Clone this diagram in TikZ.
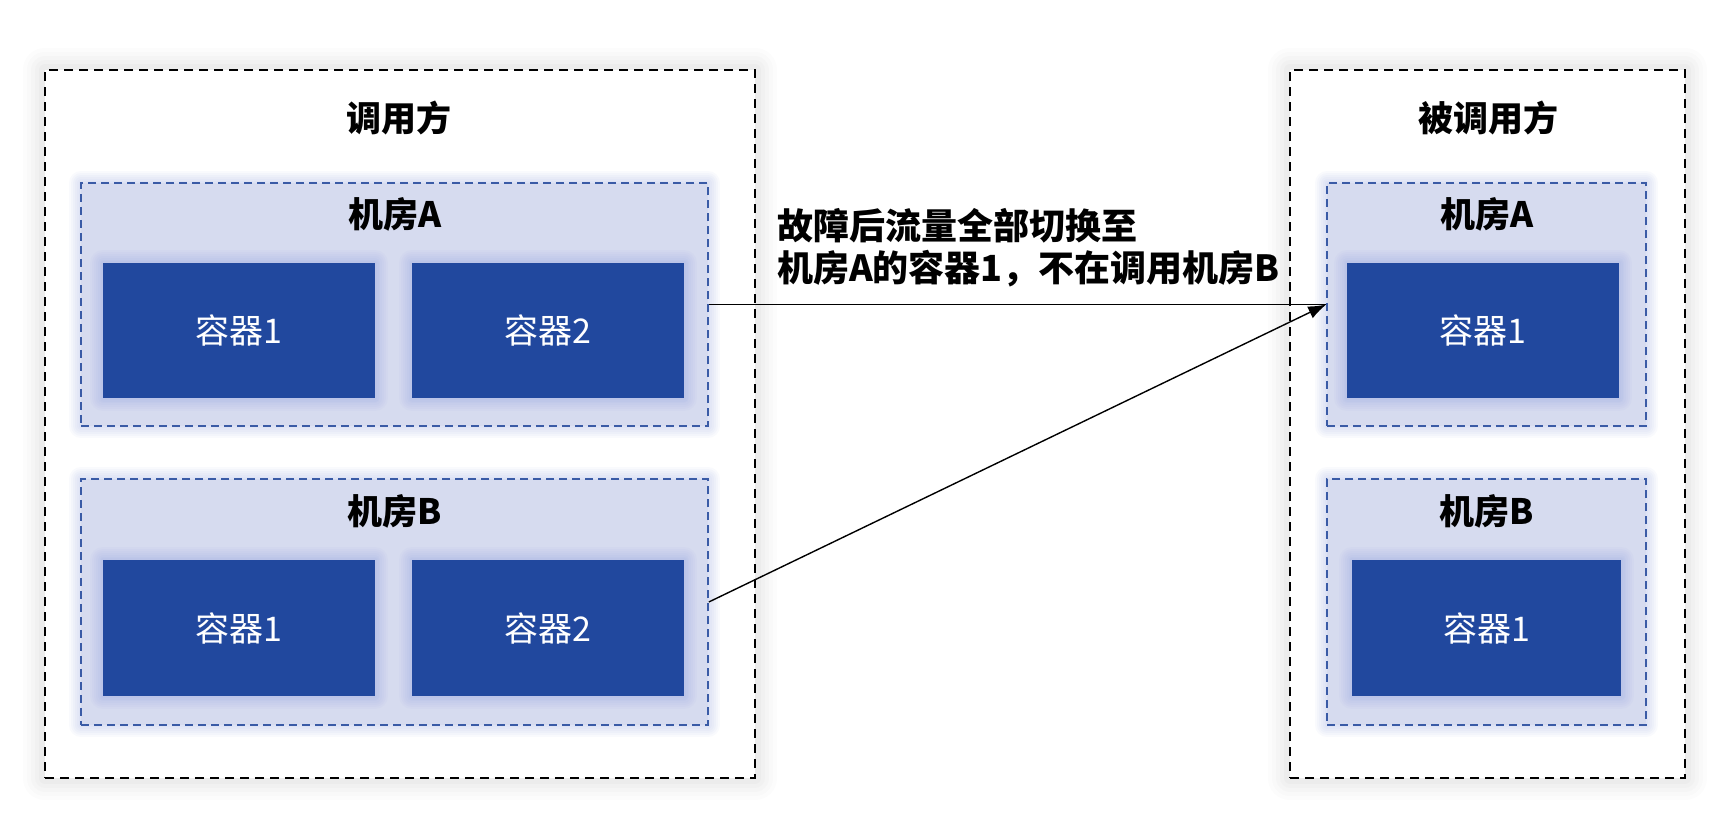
\documentclass[tikz,border=0pt]{standalone}
\usepackage{fontspec}
\setmainfont{Noto Sans CJK SC}
\usetikzlibrary{arrows.meta}
\definecolor{cont}{HTML}{21489E}
\definecolor{roomfill}{HTML}{D6DBEF}
\definecolor{roomline}{HTML}{3A5BA6}
\definecolor{glow}{HTML}{7A90E0}
\tikzset{
  gl/.style 2 args={preaction={draw=#1, solid, line width=#2, draw opacity=0.045, line join=round}},
  outerbox/.style={draw=black, line width=1.8pt, dash pattern=on 9pt off 6pt, fill=white,
    preaction={draw=black!60, solid, line width=44pt, draw opacity=0.02, line join=round},
    preaction={draw=black!60, solid, line width=36pt, draw opacity=0.02, line join=round},
    preaction={draw=black!60, solid, line width=28pt, draw opacity=0.025, line join=round},
    preaction={draw=black!60, solid, line width=20pt, draw opacity=0.025, line join=round},
    preaction={draw=black!60, solid, line width=12pt, draw opacity=0.03, line join=round}},
  roombox/.style={draw=roomline, line width=1.6pt, dash pattern=on 8pt off 5pt, fill=roomfill,
    gl={glow}{24pt}, gl={glow}{20pt}, gl={glow}{16pt}, gl={glow}{12pt}, gl={glow}{8pt}, gl={glow}{4pt}},
  contbox/.style={fill=cont, text=white, inner sep=0pt, font=\fontsize{34}{40}\selectfont,
    gl={glow}{26pt}, gl={glow}{22pt}, gl={glow}{18pt}, gl={glow}{14pt}, gl={glow}{10pt}, gl={glow}{7pt}, gl={glow}{4pt}},
  titletext/.style={font=\bfseries\fontsize{35}{40}\selectfont, inner sep=0pt},
  conn/.style={draw=black, line width=1.4pt},
}
\begin{document}
\begin{tikzpicture}[x=1pt, y=-1pt]
\useasboundingbox[fill=white] (0,0) rectangle (1719,812);

% outer boxes
\node[outerbox, minimum width=710pt, minimum height=708pt] (caller) at (400,424) {};
\node[outerbox, minimum width=395pt, minimum height=708pt] (callee) at (1487.5,424) {};
\node[titletext] (callerT) at (399,118) {调用方};
\node[titletext] (calleeT) at (1488,118) {被调用方};

% left rooms
\node[roombox, minimum width=627pt, minimum height=243pt] (LA) at (394.5,304.5) {};
\node[roombox, minimum width=627pt, minimum height=246pt] (LB) at (394.5,602) {};
\node[titletext] (LAt) at (395,214) {机房A};
\node[titletext] (LBt) at (395,511) {机房B};
\node[contbox, minimum width=272pt, minimum height=135pt] (LA1) at (239,330.5) {容器1};
\node[contbox, minimum width=272pt, minimum height=135pt] (LA2) at (548,330.5) {容器2};
\node[contbox, minimum width=272pt, minimum height=136pt] (LB1) at (239,628) {容器1};
\node[contbox, minimum width=272pt, minimum height=136pt] (LB2) at (548,628) {容器2};

% right rooms
\node[roombox, minimum width=319pt, minimum height=243pt] (RA) at (1486.5,304.5) {};
\node[roombox, minimum width=319pt, minimum height=246pt] (RB) at (1486.5,602) {};
\node[titletext] (RAt) at (1487,214) {机房A};
\node[titletext] (RBt) at (1487,511) {机房B};
\node[contbox, minimum width=272pt, minimum height=135pt] (RA1) at (1483,330.5) {容器1};
\node[contbox, minimum width=269pt, minimum height=136pt] (RB1) at (1486.5,628) {容器1};

% connectors
\draw[conn] (LA.east) -- (RA.west);
\draw[conn, -{Latex[length=18pt, width=13pt]}] (LB.east) -- (RA.west);

\node[anchor=west, align=left, inner sep=0pt, font=\bfseries\fontsize{36}{42}\selectfont] (lbl) at (777,248)
  {故障后流量全部切换至\\机房A的容器1，不在调用机房B};
\end{tikzpicture}
\end{document}
